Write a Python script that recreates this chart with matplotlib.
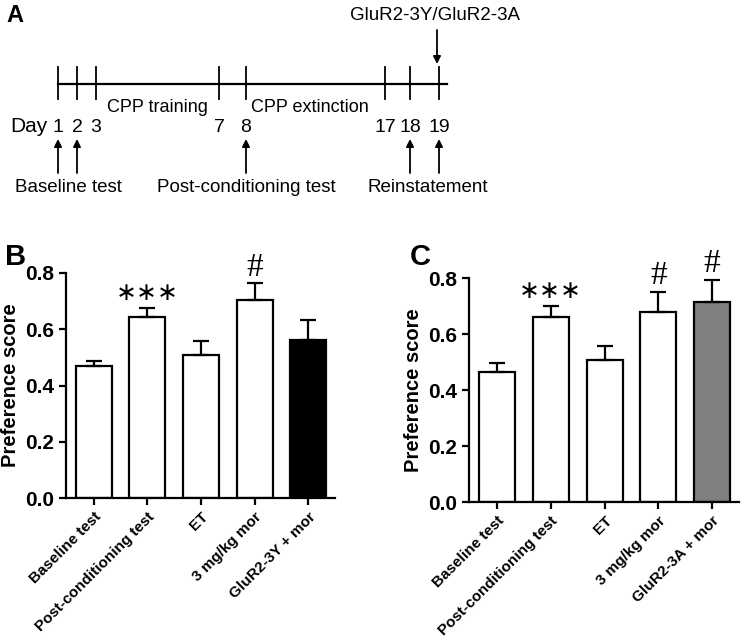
import matplotlib.pyplot as plt

# --- data ---
categories_b = ["Baseline test", "Post-conditioning test", "ET", "3 mg/kg mor", "GluR2-3Y + mor"]
means_b = [0.469, 0.645, 0.508, 0.704, 0.562]
errs_b = [0.019, 0.032, 0.051, 0.059, 0.071]
marks_b = ["", "***", "", "#", ""]

categories_c = ["Baseline test", "Post-conditioning test", "ET", "3 mg/kg mor", "GluR2-3A + mor"]
means_c = [0.465, 0.661, 0.507, 0.680, 0.713]
errs_c = [0.030, 0.040, 0.050, 0.069, 0.079]
marks_c = ["", "***", "", "#", "#"]

days = ["1", "2", "3", "7", "8", "17", "18", "19"]
test_days = ["1", "2", "8", "18", "19"]

W, H = 742, 640
fig = plt.figure(figsize=(W / 100, H / 100), dpi=100)
plt.rcParams["font.family"] = ["Liberation Sans", "DejaVu Sans"]

# --- Panel A: timeline (pixel coordinates) ---
axA = fig.add_axes([0, 1 - 215 / H, 1, 215 / H])
axA.set_xlim(0, W)
axA.set_ylim(215, 0)
axA.axis("off")

day_x = [58, 77, 96, 219, 246, 385, 410, 439]
axA.plot([58, 447], [84, 84], color="black", lw=1.6)
for d, x in zip(days, day_x):
    axA.plot([x, x], [67, 99], color="black", lw=1.3)
    axA.text(x, 127, d, ha="center", va="center", fontsize=14)
    if d in test_days:
        axA.annotate("", xy=(x, 139), xytext=(x, 173),
                     arrowprops=dict(arrowstyle="-|>", color="black", lw=1.3,
                                     mutation_scale=11, shrinkA=0, shrinkB=0))
axA.text(29, 127, "Day", ha="center", va="center", fontsize=15)
axA.text(157, 107, "CPP training", ha="center", va="center", fontsize=13)
axA.text(310, 107, "CPP extinction", ha="center", va="center", fontsize=13)
axA.text(68, 188, "Baseline test", ha="center", va="center", fontsize=13.5)
axA.text(246, 188, "Post-conditioning test", ha="center", va="center", fontsize=13.5)
axA.text(428, 188, "Reinstatement", ha="center", va="center", fontsize=13.5)
axA.text(435, 16, "GluR2-3Y/GluR2-3A", ha="center", va="center", fontsize=13.5)
axA.annotate("", xy=(437, 64), xytext=(437, 30),
             arrowprops=dict(arrowstyle="-|>", color="black", lw=1.3,
                             mutation_scale=11, shrinkA=0, shrinkB=0))
axA.text(6, 15, "A", ha="left", va="center", fontsize=17, fontweight="bold")


# --- Panels B and C: bar charts ---
def bar_panel(rect, cats, means, errs, marks, last_color):
    ax = fig.add_axes(rect)
    x = range(len(cats))
    colors = ["white"] * (len(cats) - 1) + [last_color]
    ax.bar(x, means, width=0.67, color=colors, edgecolor="black", linewidth=1.6, zorder=2)
    ax.errorbar(x, means, yerr=[[0] * len(errs), errs], fmt="none", ecolor="black",
                elinewidth=1.6, capsize=6, capthick=1.6, zorder=3)
    for xi, m, e, s in zip(x, means, errs, marks):
        if s == "***":
            ax.text(xi, m + e + 0.01, "\u2217\u2217\u2217", ha="center", va="bottom",
                    fontsize=18, family="DejaVu Sans", clip_on=False)
        elif s:
            ax.text(xi, m + e + 0.003, s, ha="center", va="bottom", fontsize=24,
                    family="Liberation Serif", clip_on=False)
    ax.set_xlim(-0.52, len(cats) - 0.5)
    ax.set_ylim(0, 0.8)
    ax.set_yticks([0.0, 0.2, 0.4, 0.6, 0.8])
    ax.set_yticklabels(["0.0", "0.2", "0.4", "0.6", "0.8"], fontsize=15, fontweight="bold")
    ax.set_xticks(list(x))
    ax.set_xticklabels(cats, rotation=45, ha="right", rotation_mode="anchor",
                       fontsize=11, fontweight="bold")
    ax.set_ylabel("Preference score", fontsize=14.5, fontweight="bold")
    ax.spines["top"].set_visible(False)
    ax.spines["right"].set_visible(False)
    ax.spines["left"].set_linewidth(1.6)
    ax.spines["bottom"].set_linewidth(1.6)
    ax.tick_params(width=1.6, length=5)
    return ax


bar_panel([66 / W, 1 - 498 / H, (335 - 66) / W, (498 - 273) / H],
          categories_b, means_b, errs_b, marks_b, "black")
bar_panel([469 / W, 1 - 502 / H, (739 - 469) / W, (502 - 278) / H],
          categories_c, means_c, errs_c, marks_c, "#808080")

fig.text(5 / W, 1 - 257 / H, "B", ha="left", va="center", fontsize=21, fontweight="bold")
fig.text(410 / W, 1 - 257 / H, "C", ha="left", va="center", fontsize=21, fontweight="bold")

plt.savefig("out.png", dpi=100)
